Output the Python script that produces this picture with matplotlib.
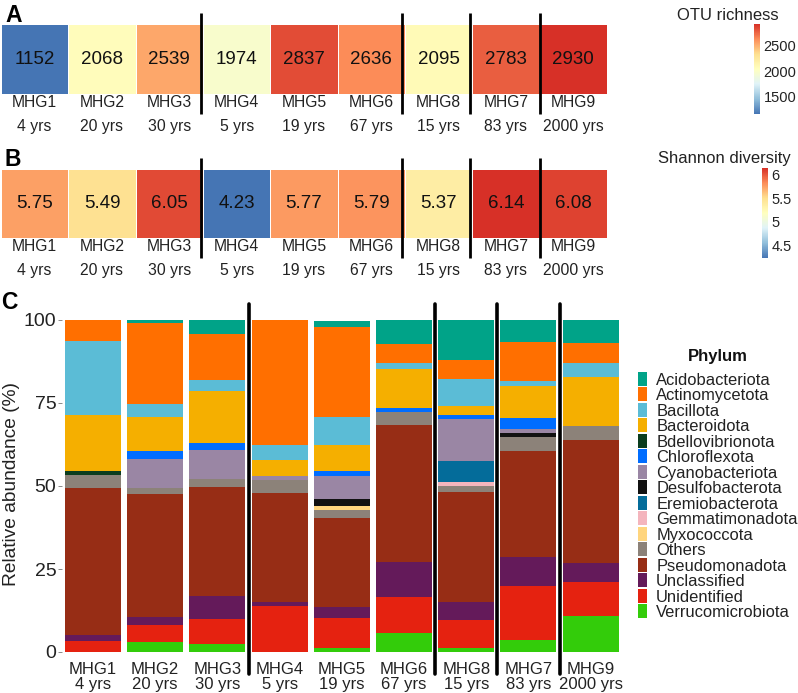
import matplotlib
matplotlib.use('Agg')
import matplotlib.pyplot as plt
import numpy as np
from matplotlib.colors import LinearSegmentedColormap, Normalize
from matplotlib.cm import ScalarMappable
from matplotlib.patches import Patch

plt.rcParams['font.family'] = ['Liberation Sans', 'DejaVu Sans']

W, H = 798, 693

groups = ['MHG1', 'MHG2', 'MHG3', 'MHG4', 'MHG5', 'MHG6', 'MHG8', 'MHG7', 'MHG9']
ages = ['4 yrs', '20 yrs', '30 yrs', '5 yrs', '19 yrs', '67 yrs', '15 yrs', '83 yrs', '2000 yrs']
richness = [1152, 2068, 2539, 1974, 2837, 2636, 2095, 2783, 2930]
shannon = [5.75, 5.49, 6.05, 4.23, 5.77, 5.79, 5.37, 6.14, 6.08]

acidobacteriota = [0, 0.9, 4.0, 0, 1.7, 7.1, 11.8, 6.4, 7.0]
actinomycetota = [6.2, 24.3, 13.9, 37.7, 27.1, 6.0, 6.0, 12.0, 5.9]
bacillota = [22.4, 4.0, 3.5, 4.4, 8.6, 1.7, 8.0, 1.4, 4.4]
bacteroidota = [16.9, 10.2, 15.4, 4.9, 7.8, 11.6, 2.8, 9.7, 14.5]
bdellovibrionota = [1.2, 0, 0, 0, 0, 0, 0, 0, 0]
chloroflexota = [0, 2.3, 2.4, 0, 1.6, 1.2, 1.1, 3.3, 0]
cyanobacteriota = [0, 8.7, 8.6, 1.2, 6.7, 0, 12.8, 1.0, 0]
desulfobacterota = [0, 0, 0, 0, 2.2, 0, 0, 1.3, 0]
eremiobacterota = [0, 0, 0, 0, 0, 0, 6.1, 0, 0]
gemmatimonadota = [0, 0, 0, 0, 0, 0, 1.2, 0, 0]
myxococcota = [0, 0, 0, 0, 1.2, 0, 0, 0, 0]
others = [3.7, 1.9, 2.4, 3.9, 2.3, 4.1, 2.0, 4.3, 4.3]
pseudomonadota = [44.5, 37.1, 32.7, 32.9, 26.9, 41.3, 33.0, 32.0, 37.2]
unclassified = [1.6, 2.4, 7.0, 1.2, 3.3, 10.3, 5.6, 8.7, 5.6]
unidentified = [3.4, 5.2, 7.5, 13.8, 9.1, 11.1, 8.3, 16.3, 10.2]
verrucomicrobiota = [0, 2.9, 2.5, 0, 1.2, 5.6, 1.2, 3.5, 10.9]

phyla = ['Acidobacteriota', 'Actinomycetota', 'Bacillota', 'Bacteroidota', 'Bdellovibrionota',
         'Chloroflexota', 'Cyanobacteriota', 'Desulfobacterota', 'Eremiobacterota',
         'Gemmatimonadota', 'Myxococcota', 'Others', 'Pseudomonadota', 'Unclassified',
         'Unidentified', 'Verrucomicrobiota']
abundance = [acidobacteriota, actinomycetota, bacillota, bacteroidota, bdellovibrionota,
             chloroflexota, cyanobacteriota, desulfobacterota, eremiobacterota,
             gemmatimonadota, myxococcota, others, pseudomonadota, unclassified,
             unidentified, verrucomicrobiota]
colors = ['#00A388', '#FF6F00', '#5BBCD6', '#F5AF00', '#0B3D1E', '#006DFF', '#9A86A4', '#111111',
          '#046C9A', '#F4B5BD', '#FFD57E', '#8C8279', '#972D15', '#641A5A', '#E52210', '#33CC0A']

heat_cmap = LinearSegmentedColormap.from_list(
    'heat', ['#4575B4', '#91BFDB', '#E0F3F8', '#FFFFBF', '#FEE090', '#FC8D59', '#D73027'])

txt = '#222222'


def px_axes(x0, y0, x1, y1):
    # pixel box measured from the top left of the picture
    return fig.add_axes([x0 / W, 1 - y1 / H, (x1 - x0) / W, (y1 - y0) / H])


def heat_row(box, values, fmt, seps):
    ax = px_axes(*box)
    norm = Normalize(min(values), max(values))
    ax.pcolormesh(np.arange(len(values) + 1), [0, 1], np.array([values]), cmap=heat_cmap,
                  norm=norm, edgecolor='white', linewidth=0.6)
    for i, v in enumerate(values):
        ax.text(i + 0.5, 0.5, fmt % v, ha='center', va='center', fontsize=13.5, color='#111111')
    ax.set_xlim(0, len(values))
    ax.set_ylim(0, 1)
    ax.set_yticks([])
    ax.set_xticks(np.arange(len(values)) + 0.5)
    ax.set_xticklabels([g + '\n' + a for g, a in zip(groups, ages)], fontsize=11.3,
                       color=txt, linespacing=1.72)
    ax.tick_params(axis='x', length=0, pad=1)
    for s in ax.spines.values():
        s.set_visible(False)
    for s in seps:
        ax.plot([s, s], [-0.29, 1.16], color='black', lw=2, clip_on=False, solid_capstyle='butt')
    return ax, norm


def color_bar(box, norm, ticks, labels):
    cax = px_axes(*box)
    cb = fig.colorbar(ScalarMappable(norm=norm, cmap=heat_cmap), cax=cax)
    cb.set_ticks(ticks)
    cb.set_ticklabels(labels)
    cb.ax.tick_params(length=0, pad=2.5, labelsize=10.5, labelcolor=txt)
    cb.outline.set_visible(False)


fig = plt.figure(figsize=(W / 100, H / 100), dpi=100)

seps = [2.97, 5.95, 6.96, 8.0]
_, norm_a = heat_row((1, 24, 607, 94), richness, '%d', seps)
_, norm_b = heat_row((1, 169, 607, 238), shannon, '%.2f', seps)

color_bar((754, 24, 760, 114), norm_a, [1500, 2000, 2500], ['1500', '2000', '2500'])
color_bar((762, 168, 768, 258), norm_b, [4.5, 5, 5.5, 6], ['4.5', '5', '5.5', '6'])
fig.text(728 / W, 1 - 15 / H, 'OTU richness', ha='center', va='center', fontsize=12, color=txt)
fig.text(724 / W, 1 - 159 / H, 'Shannon diversity', ha='center', va='center', fontsize=12, color=txt)

fig.text(5 / W, 1 - 15 / H, 'A', fontsize=16.5, fontweight='bold', va='center')
fig.text(5 / W, 1 - 159 / H, 'B', fontsize=16.5, fontweight='bold', va='center')
fig.text(1 / W, 1 - 302 / H, 'C', fontsize=16.5, fontweight='bold', va='center')

# stacked bars, last phylum in the list sits at the bottom
ax = px_axes(61.9, 320, 621.7, 652)
x = np.arange(len(groups))
bottom = np.zeros(len(groups))
for name, vals, col in zip(phyla[::-1], abundance[::-1], colors[::-1]):
    ax.bar(x, vals, bottom=bottom, width=0.9, color=col, label=name, linewidth=0)
    bottom += np.array(vals)
ax.set_xlim(-0.5, len(groups) - 0.5)
ax.set_ylim(0, 100)
ax.set_yticks([0, 25, 50, 75, 100])
ax.set_xticks(x)
ax.set_xticklabels([g + '\n' + a for g, a in zip(groups, ages)], fontsize=12, color=txt, linespacing=1.04)
ax.tick_params(axis='x', length=0, pad=7)
ax.tick_params(axis='y', length=3, width=0.6, color='#777777', labelsize=14, labelcolor=txt, pad=1)
ax.set_ylabel('Relative abundance (%)', fontsize=13.8, color=txt)
ax.yaxis.set_label_coords(-0.075, 0.506)
for s in ax.spines.values():
    s.set_visible(False)
for s in [2.5, 5.5, 6.5, 7.5]:
    ax.plot([s, s], [-6.6, 104.8], color='black', lw=2.6, clip_on=False, solid_capstyle='round')

handles = [Patch(facecolor=c, edgecolor='none') for c in colors]
leg = fig.legend(handles, phyla, loc='upper left', bbox_to_anchor=(638 / W, 1 - 372 / H), frameon=False,
                 fontsize=11.9, handlelength=0.55, handleheight=0.92, labelspacing=-0.01, handletextpad=0.55,
                 borderpad=0, borderaxespad=0)
for t in leg.get_texts():
    t.set_color(txt)
fig.text(718 / W, 1 - 357 / H, 'Phylum', ha='center', va='center', fontsize=12, fontweight='bold', color='#111111')

fig.savefig('out.png', dpi=100)
